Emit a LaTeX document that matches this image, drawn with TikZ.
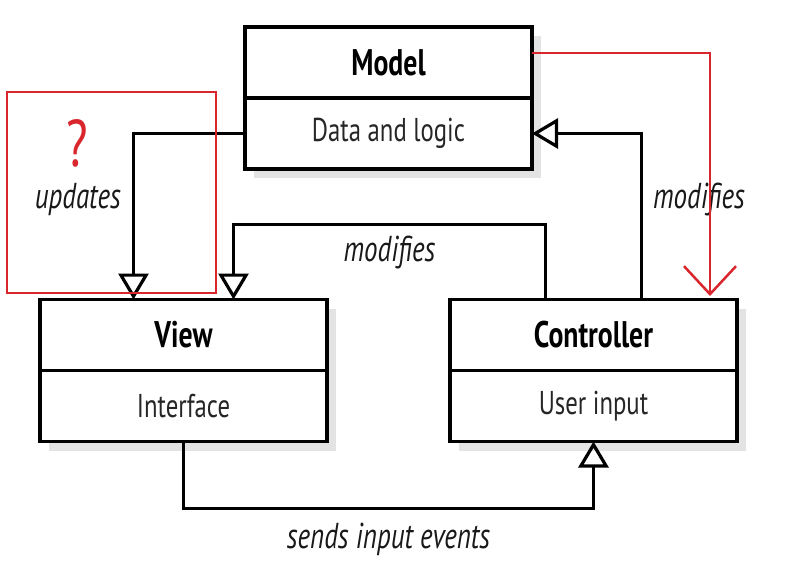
\documentclass[tikz,border=0pt]{standalone}
\usepackage{fontspec}
\newfontfamily\diafont{PT Sans}[FakeStretch=0.75]
\usetikzlibrary{arrows.meta,positioning,shadows}
\definecolor{markred}{HTML}{D9262C}
\tikzset{
  part/.style={draw, line width=3.5pt, fill=white, minimum width=287pt, minimum height=71pt,
               outer sep=0pt, inner sep=0pt, text=black!85,
               font=\diafont\fontsize{33}{36}\selectfont,
               drop shadow={shadow xshift=9pt, shadow yshift=-9pt, fill=black!22}},
  head/.style={part, text=black, font=\diafont\bfseries\fontsize{37}{40}\selectfont},
  assoc/.style={line width=3.2pt, -{Triangle[open, length=26pt, width=30pt]}},
  rel/.style={inner sep=0pt, text=black!90, font=\diafont\itshape\fontsize{36}{38}\selectfont},
  markline/.style={markred, line width=2.5pt},
  markbox/.style={draw=markred, line width=2.5pt, minimum width=209pt, minimum height=201pt}
}
\begin{document}
\begin{tikzpicture}[x=1pt, y=-1pt]
  \useasboundingbox (0,0) rectangle (793,566);
  % the three classes
  \node[head] (model) at (388.5,62.5) {Model};
  \node[part, below=0pt of model] (modelbody) {Data and logic};
  \node[head] (view) at (183.5,335) {View};
  \node[part, below=0pt of view] (viewbody) {Interface};
  \node[head, right=123pt of view] (ctrl) {Controller};
  \node[part, below=0pt of ctrl] (ctrlbody) {User input};
  % relations
  \draw[assoc] (modelbody.west) -| node[rel, pos=0.7, left=11pt] {updates} ([xshift=-50pt]view.north);
  \draw[assoc] ([xshift=-48pt]ctrl.north) -- ++(0,-75) -| node[rel, pos=0.25, below=10pt] {modifies} ([xshift=50pt]view.north);
  \draw[assoc] ([xshift=48pt]ctrl.north) |- node[rel, pos=0.3, right=10pt] {modifies} (modelbody.east);
  \draw[assoc] (viewbody.south) -- ++(0,67) -| node[rel, pos=0.25, below=13pt] {sends input events} (ctrlbody.south);
  % red annotations
  \node[markbox] (hint) at (111.5,192.5) {};
  \node[text=markred, font=\diafont\fontsize{66}{70}\selectfont] (qmark) at (77,143) {?};
  \coordinate (redtip) at (710,296);
  \draw[markline, -{Straight Barb[length=28pt, width=52pt]}] ([yshift=9.5pt]model.east) -| (redtip);
\end{tikzpicture}
\end{document}
